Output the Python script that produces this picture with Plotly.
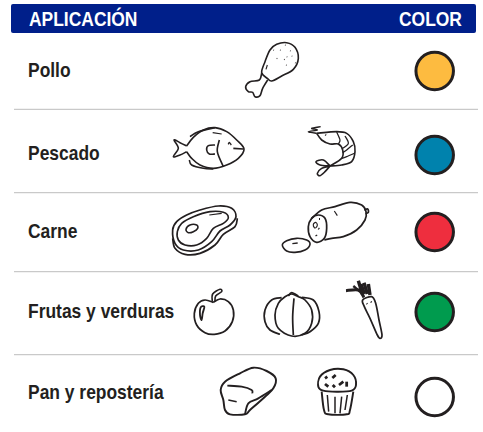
import plotly.graph_objects as go

# ---- table data ----
aplicaciones = ["Pollo", "Pescado", "Carne", "Frutas y verduras", "Pan y repostería"]
colores = ["#FDBB40", "#0082AD", "#EE2E3E", "#009B4E", "#FFFFFF"]
encabezados = ["APLICACIÓN", "COLOR"]
fila_texto_y = [69.5, 152.5, 230, 310, 391]
fila_circulo_y = [71, 155, 232, 312, 397]
separadores_y = [109.3, 192.7, 271.7, 354.7]

INK = "#231F20"
FONT = "Liberation Sans, Arial, sans-serif"


def spline(pts, org, closed=False):
    """Catmull-Rom through zoom-crop points, returned as an SVG path in pixel space."""
    P = [(org[0] + x / 3, org[1] + y / 3) for x, y in pts]
    n = len(P)
    if n == 2:
        return f"M{P[0][0]:.2f},{P[0][1]:.2f}L{P[1][0]:.2f},{P[1][1]:.2f}"
    d = f"M{P[0][0]:.2f},{P[0][1]:.2f}"
    segs = n if closed else n - 1
    for i in range(segs):
        if closed:
            p0, p1, p2, p3 = P[(i - 1) % n], P[i], P[(i + 1) % n], P[(i + 2) % n]
        else:
            p0, p1, p2, p3 = P[max(i - 1, 0)], P[i], P[i + 1], P[min(i + 2, n - 1)]
        c1 = (p1[0] + (p2[0] - p0[0]) / 6, p1[1] + (p2[1] - p0[1]) / 6)
        c2 = (p2[0] - (p3[0] - p1[0]) / 6, p2[1] - (p3[1] - p1[1]) / 6)
        d += f"C{c1[0]:.2f},{c1[1]:.2f} {c2[0]:.2f},{c2[1]:.2f} {p2[0]:.2f},{p2[1]:.2f}"
    return d + ("Z" if closed else "")


Z1 = (160, 30)
Z2 = (170, 270)
Z4 = (160, 195)
Z5 = (275, 195)

# (points, origin, closed, width)
iconos = [
    # drumstick
    ([(305, 128), (315, 95), (330, 60), (350, 43), (380, 38), (405, 52), (415, 85), (400, 118), (365, 138), (335, 153), (322, 145)], Z1, True, 1.4),
    ([(305, 130), (298, 150), (270, 155), (257, 170), (265, 185), (278, 187), (285, 200), (300, 197), (308, 175), (323, 150)], Z1, False, 1.4),
    ([(318, 118), (322, 105)], Z1, False, 1),
    # fish
    ([(80, 348), (100, 322), (130, 300), (165, 293), (200, 305), (230, 330), (252, 357), (235, 385), (200, 405), (160, 415), (120, 405), (95, 385), (80, 365)], Z1, False, 1.4),
    ([(80, 348), (60, 338), (42, 330), (55, 355), (40, 380), (60, 375), (80, 365)], Z1, False, 1.4),
    ([(90, 320), (115, 305), (165, 293)], Z1, False, 1.4),
    ([(88, 390), (95, 405), (130, 415), (160, 417)], Z1, False, 1.4),
    ([(178, 330), (172, 365), (190, 410)], Z1, False, 1.4),
    ([(165, 345), (145, 347), (140, 360), (148, 372), (165, 372)], Z1, False, 1.4),
    ([(205, 343), (208, 337), (214, 345)], Z1, False, 1.2),
    ([(220, 355), (250, 357)], Z1, False, 1.4),
    ([(158, 308), (185, 312)], Z1, False, 1),
    # shrimp
    ([(482, 290), (455, 295), (472, 300), (445, 305), (470, 310)], Z1, False, 1.2),
    ([(470, 310), (530, 305), (560, 310), (580, 335), (585, 365), (575, 395), (545, 405), (510, 408)], Z1, False, 1.4),
    ([(470, 310), (485, 330), (510, 342), (535, 342), (548, 360), (545, 385), (510, 408)], Z1, False, 1.4),
    ([(530, 306), (540, 330), (535, 342)], Z1, False, 1.1),
    ([(555, 318), (565, 340), (548, 355)], Z1, False, 1.1),
    ([(578, 345), (560, 360), (548, 368)], Z1, False, 1.1),
    ([(583, 370), (560, 380), (546, 385)], Z1, False, 1.1),
    ([(510, 408), (490, 390), (468, 395), (480, 405), (510, 408)], Z1, False, 1.4),
    ([(510, 408), (485, 415), (472, 430), (480, 437), (495, 425), (510, 408)], Z1, False, 1.4),
    ([(496, 314), (498, 316)], Z1, False, 1.5),
    # steak
    ([(38, 105), (50, 80), (80, 60), (120, 45), (175, 33), (215, 40), (228, 65), (210, 90), (180, 108), (155, 140), (115, 165), (70, 165), (45, 145)], Z4, True, 1.5),
    ([(38, 130), (45, 160), (75, 178), (120, 175), (165, 150), (190, 118), (225, 95), (232, 70)], Z4, False, 1.5),
    ([(52, 110), (65, 85), (100, 65), (150, 50), (190, 52), (205, 68), (190, 85), (160, 100), (140, 130), (110, 150), (75, 150), (55, 135)], Z4, True, 1.4),
    ([(78, 103), (90, 90), (110, 90), (113, 100), (100, 110), (85, 113)], Z4, True, 1.4),
    ([(148, 60), (185, 55)], Z4, False, 1),
    # sausage
    ([(100, 95), (110, 70), (130, 60), (150, 70), (155, 100), (148, 130), (125, 142), (105, 125)], Z5, True, 1.5),
    ([(110, 70), (140, 45), (180, 35), (225, 22), (260, 30), (273, 50), (270, 75), (245, 105), (205, 125), (170, 130), (148, 135)], Z5, False, 1.5),
    ([(268, 45), (278, 42), (280, 52), (272, 56)], Z5, False, 1.5),
    ([(22, 150), (35, 137), (65, 130), (95, 135), (105, 148), (90, 165), (60, 172), (35, 168)], Z5, True, 1.4),
    ([(52, 146), (68, 144)], Z5, False, 1.2),
    ([(118, 98), (115, 88), (122, 82), (127, 90), (123, 98)], Z5, True, 1),
    ([(132, 72), (135, 72)], Z5, False, 1.8),
    ([(130, 100), (133, 102)], Z5, False, 1.8),
    ([(123, 120), (125, 123)], Z5, False, 1.8),
    ([(178, 48), (187, 62)], Z5, False, 1),
    # apple
    ([(130, 97), (105, 90), (85, 100), (73, 130), (80, 165), (105, 188), (133, 193), (165, 183), (187, 155), (190, 120), (175, 95), (150, 87), (130, 97)], Z2, False, 1.5),
    ([(127, 95), (128, 72), (150, 58), (155, 65), (137, 78), (135, 95)], Z2, False, 1.4),
    ([(92, 112), (103, 110), (98, 130), (95, 150), (90, 135)], Z2, True, 1.6),
    # pumpkin
    ([(335, 83), (305, 90), (285, 120), (285, 155), (300, 180), (330, 193)], Z2, False, 1.5),
    ([(365, 72), (345, 80), (325, 100), (315, 135), (325, 175), (365, 198), (405, 190), (425, 160), (425, 120), (405, 90), (385, 80)], Z2, True, 1.5),
    ([(395, 82), (430, 90), (447, 125), (445, 160), (420, 185), (395, 195)], Z2, False, 1.5),
    ([(372, 85), (368, 140), (370, 195)], Z2, False, 1.5),
    ([(355, 78), (365, 68), (385, 78)], Z2, False, 1.5),
    # carrot
    ([(578, 90), (605, 80), (617, 100), (627, 150), (636, 195), (630, 205), (622, 195), (600, 145), (583, 110)], Z2, True, 1.5),
    ([(528, 62), (565, 60), (582, 82)], Z2, False, 2.6),
    ([(578, 74), (565, 32)], Z2, False, 3.0),
    ([(583, 72), (573, 42)], Z2, False, 3.0),
    ([(592, 72), (582, 38)], Z2, False, 3.0),
    ([(600, 75), (595, 42)], Z2, False, 3.0),
    ([(570, 65), (550, 48)], Z2, False, 2.0),
    ([(602, 95), (605, 97)], Z2, False, 1.6),
    ([(590, 100), (592, 102)], Z2, False, 1.6),
    # bread
    ([(152, 360), (165, 335), (210, 310), (250, 293), (290, 303), (317, 325), (310, 355), (285, 380), (240, 420), (225, 433), (180, 433), (165, 420), (160, 390)], Z2, True, 1.7),
    ([(172, 347), (215, 350), (245, 360), (247, 370)], Z2, False, 1.6),
    ([(305, 360), (265, 385), (235, 400), (225, 433)], Z2, False, 1.6),
    ([(175, 390), (200, 395)], Z2, False, 1.3),
    # muffin
    ([(445, 350), (450, 320), (480, 300), (520, 298), (550, 315), (558, 345), (545, 362), (500, 365), (460, 362)], Z2, True, 1.7),
    ([(455, 365), (462, 420), (475, 433), (530, 433), (540, 420), (550, 365)], Z2, False, 1.7),
    ([(472, 375), (476, 425)], Z2, False, 1.3),
    ([(495, 380), (495, 430)], Z2, False, 1.3),
    ([(515, 380), (510, 430)], Z2, False, 1.3),
    ([(532, 375), (525, 420)], Z2, False, 1.3),
    ([(465, 325), (472, 320)], Z2, False, 2.4),
    ([(487, 324), (497, 315)], Z2, False, 2.4),
    ([(465, 342), (475, 350)], Z2, False, 2.4),
    ([(488, 345), (495, 352)], Z2, False, 2.4),
    ([(507, 345), (520, 335)], Z2, False, 2.4),
    ([(530, 335), (530, 350)], Z2, False, 2.4),
]
# drumstick skin dots
for px, py in [(350, 85), (375, 45), (390, 62), (360, 60), (380, 80), (372, 88), (405, 98), (378, 105), (340, 60), (395, 78)]:
    iconos.append(([(px, py), (px + 2, py + 1)], Z1, False, 1.0))

shapes = [
    dict(type="path", xref="x", yref="y", layer="below",
         path="M13,4 L474,4 Q476,4 476,6 L476,31 Q476,33 474,33 L13,33 Q11,33 11,31 L11,6 Q11,4 13,4 Z",
         fillcolor="#001F8A", line=dict(width=0)),
]
for y in separadores_y:
    shapes.append(dict(type="line", xref="x", yref="y", layer="below", x0=14, x1=478, y0=y, y1=y,
                       line=dict(color="#C9C9C9", width=1.3)))
for pts, org, closed, w in iconos:
    shapes.append(dict(type="path", xref="x", yref="y", path=spline(pts, org, closed),
                       fillcolor="rgba(0,0,0,0)", line=dict(color=INK, width=w * 1.15)))

annotations = [
    dict(x=27, y=18, text=encabezados[0], xanchor="left", yanchor="middle", align="left", showarrow=False,
         font=dict(family=FONT, size=21, weight=700, color="white")),
    dict(x=397, y=18, text=encabezados[1], xanchor="left", yanchor="middle", align="left", showarrow=False,
         font=dict(family=FONT, size=21, weight=700, color="white")),
]
for name, y in zip(aplicaciones, fila_texto_y):
    annotations.append(dict(x=26, y=y, text=name, xanchor="left", yanchor="middle", align="left", showarrow=False,
                            font=dict(family=FONT, size=21, weight=700, color=INK)))

fig = go.Figure(go.Scatter(
    x=[434.7] * len(colores), y=fila_circulo_y, mode="markers", hoverinfo="skip",
    marker=dict(size=37.5, color=colores, line=dict(color=INK, width=3)),
))
fig.update_layout(
    width=483, height=432, margin=dict(l=0, r=0, t=0, b=0),
    paper_bgcolor="white", plot_bgcolor="white", showlegend=False,
    xaxis=dict(range=[0, 483], visible=False, fixedrange=True),
    yaxis=dict(range=[432, 0], visible=False, fixedrange=True),
    shapes=shapes, annotations=annotations,
)
squeeze = """
document.body.style.margin='0';
document.querySelectorAll('.annotation-text').forEach(function(t){
  var w = t.getComputedTextLength();
  t.setAttribute('lengthAdjust','spacingAndGlyphs');
  t.setAttribute('textLength', w*0.83);
});
"""
fig.write_html("out.html", config={"displayModeBar": False}, post_script=squeeze)
